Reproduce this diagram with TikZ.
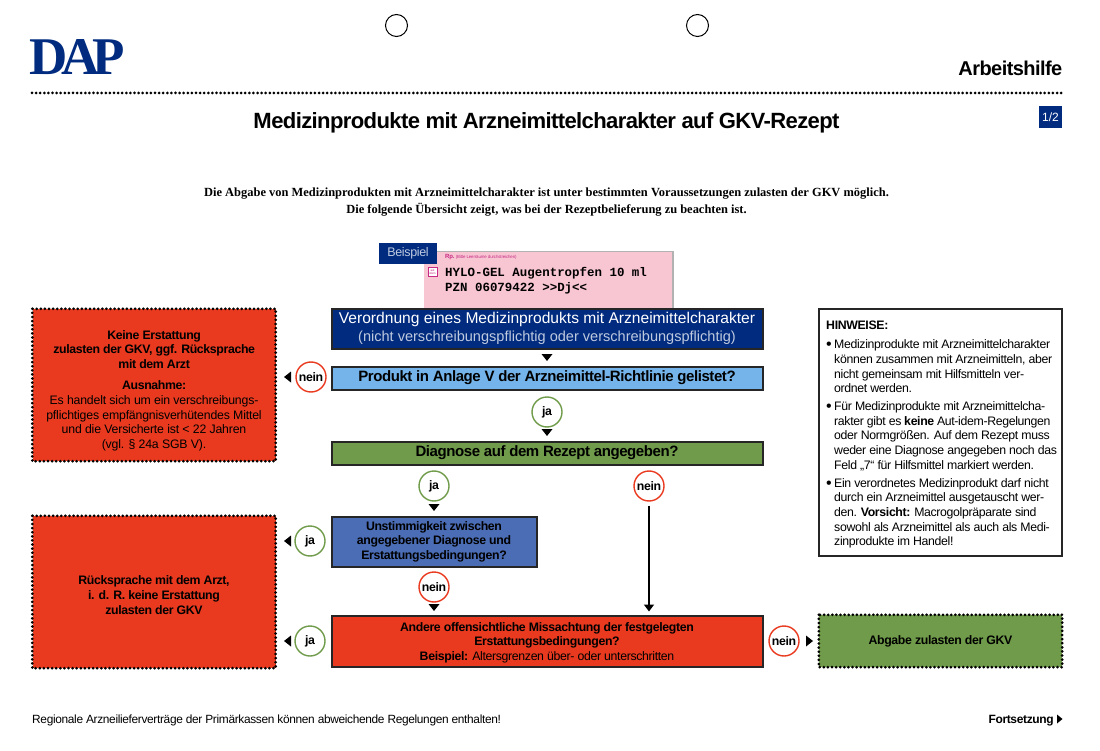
\documentclass[tikz,border=0pt]{standalone}
\usepackage{fontspec}
\setmainfont{Liberation Sans}[LetterSpace=-2.8]
\newfontfamily\widefont{Liberation Sans}
\newfontfamily\notefont{Liberation Sans}[LetterSpace=-1.5]
\newfontfamily\serifbf{Liberation Serif}
\newfontfamily\rezeptfont{Liberation Mono}
\usetikzlibrary{arrows.meta}
\definecolor{dapnavy}{HTML}{002B7F}
\definecolor{daplight}{HTML}{74B4EA}
\definecolor{dapgreen}{HTML}{6F9B4A}
\definecolor{dapblue}{HTML}{4B6DB5}
\definecolor{dapred}{HTML}{E93A20}
\definecolor{dappink}{HTML}{F8C6D3}
\newcommand{\fs}[2]{\fontsize{#1}{#2}\selectfont}
\newcommand{\notebullet}{\makebox[8pt][l]{\raisebox{-1pt}[0pt][0pt]{\fs{16}{14.6}\textbullet}}}

\begin{document}
\begin{tikzpicture}[x=1pt,y=-1pt]
  \tikzset{
    dotline/.style={line width=3pt,line cap=round,dash pattern=on 0pt off 4.1pt},
    flowbox/.style={draw=black!85,line width=2pt,inner sep=0pt,align=center,font=\fs{12.3}{14.6}\bfseries},
    dotbox/.style={fill=#1,inner sep=0pt,minimum width=243pt,align=center,font=\fs{12.3}{14.6}},
    answer/.style={circle,draw=#1,fill=white,line width=1.4pt,minimum size=30pt,inner sep=0pt,font=\fs{12.3}{14}\bfseries},
    tipdown/.pic={\fill[black] (-5.5,-3.5) -- (5.5,-3.5) -- (0,3.5) -- cycle;},
    tipleft/.pic={\fill[black] (3.5,-5.5) -- (3.5,5.5) -- (-3.5,0) -- cycle;},
    tipright/.pic={\fill[black] (-3.5,-5.5) -- (-3.5,5.5) -- (3.5,0) -- cycle;}
  }
  \useasboundingbox (0,0) rectangle (1100,751);

  % head of the page
  \node[circle,draw,line width=1pt,minimum size=22pt,inner sep=0pt] (punchl) at (396.5,25.5) {};
  \node[circle,draw,line width=1pt,minimum size=22pt,inner sep=0pt] (punchr) at (697.5,25.5) {};
  \node[text=dapnavy,font=\serifbf\fs{53}{53}\bfseries,inner sep=0pt] (logo) at (77,57) {D\kern-6pt A\kern-8pt P};
  \node[anchor=east,font=\fs{20}{22}\bfseries,inner sep=0pt] (kind) at (1062.5,68.5) {Arbeitshilfe};
  \draw[dotline] (32,93) -- (1063,93);
  \node[font=\fs{22.05}{26}\bfseries,inner sep=0pt] (title) at (546.5,123) {Medizinprodukte mit Arzneimittelcharakter auf GKV-Rezept};
  \node[fill=dapnavy,text=white,minimum width=23pt,minimum height=22pt,inner sep=0pt,font=\widefont\fs{12}{14}] (page) at (1050.5,117) {1/2};
  \node[align=center,inner sep=0pt,font=\serifbf\fs{12.45}{17}\bfseries] (intro) at (546.5,202) {Die Abgabe von Medizinprodukten mit Arzneimittelcharakter ist unter bestimmten Voraussetzungen zulasten der GKV möglich.\\Die folgende Übersicht zeigt, was bei der Rezeptbelieferung zu beachten ist.};

  % prescription
  \fill[black!30] (426,251) rectangle (674,308);
  \node[fill=dappink,minimum width=248pt,minimum height=56pt,inner sep=0pt] (rezept) at (548,280) {};
  \node[anchor=west,text=magenta!80!black,inner sep=0pt,font=\fs{4.4}{5}] (rp) at (445,257.5) {\textbf{\fs{6}{6}Rp.} (Bitte Leerräume durchstreichen)};
  \node[draw=magenta!80!black,fill=white,text=magenta!80!black,minimum size=9pt,inner sep=0pt,font=\fs{3}{3.5},align=center] (idem) at (432.5,272) {aut\\idem};
  \node[anchor=north west,align=left,inner sep=0pt,font=\rezeptfont\fs{12.45}{15}\bfseries] (mittel) at (445,267.5) {HYLO-GEL Augentropfen 10 ml\\PZN 06079422 >>Dj<<};
  \node[fill=dapnavy,text=white!75!dapnavy,minimum width=58pt,minimum height=21pt,inner sep=0pt,font=\fs{12.5}{14}] (beispiel) at (408,253.5) {Beispiel};

  % flow
  \node[flowbox,fill=dapnavy,text=white,minimum width=431pt,minimum height=40pt,font=\widefont\fs{15.6}{18.5}] (start) at (547,328.5) {Verordnung eines Medizinprodukts mit Arzneimittelcharakter\\\textcolor{white!75!dapnavy}{\fs{14.55}{17}(nicht verschreibungspflichtig oder verschreibungspflichtig)}};
  \node[flowbox,fill=daplight,minimum width=431pt,minimum height=23pt,font=\fs{15}{18}\bfseries] (anlage) at (547,378) {Produkt in Anlage V der Arzneimittel-Richtlinie gelistet?};
  \node[flowbox,fill=dapgreen,minimum width=431pt,minimum height=23pt,font=\fs{15}{18}\bfseries] (diagnose) at (547,453) {Diagnose auf dem Rezept angegeben?};
  \node[flowbox,fill=dapblue,minimum width=205pt,minimum height=50pt] (unstimmig) at (434,541.5) {Unstimmigkeit zwischen\\angegebener Diagnose und\\Erstattungsbedingungen?};
  \node[flowbox,fill=dapred,minimum width=431pt,minimum height=51pt] (missachtung) at (547,641) {\rule{0pt}{12pt}Andere offensichtliche Missachtung der festgelegten\\Erstattungsbedingungen?\\Beispiel: {\mdseries Altersgrenzen über- oder unterschritten}};

  % answers
  \node[answer=dapred] (neinanlage) at (311,377) {nein};
  \node[answer=dapgreen] (jaanlage) at (547,412) {ja};
  \node[answer=dapgreen] (jadiagnose) at (434,486) {ja};
  \node[answer=dapred] (neindiagnose) at (649,486) {nein};
  \node[answer=dapgreen] (jaunstimmig) at (310,541) {ja};
  \node[answer=dapred] (neinunstimmig) at (434,587) {nein};
  \node[answer=dapgreen] (jamissachtung) at (310,641) {ja};
  \node[answer=dapred] (neinmissachtung) at (784,641) {nein};

  % arrow heads
  \pic at (547,357.5) {tipdown};
  \pic at (547,432.5) {tipdown};
  \pic at (434,507.5) {tipdown};
  \pic at (434,607.5) {tipdown};
  \pic at (287.5,377) {tipleft};
  \pic at (287.5,541) {tipleft};
  \pic at (287.5,641) {tipleft};
  \pic at (809.5,641) {tipright};
  \draw[line width=1.5pt,-{Triangle[length=7pt,width=10pt]},shorten >=3pt,shorten <=4pt] (neindiagnose) -- (neindiagnose |- missachtung.north);

  % results
  \node[dotbox=dapred,minimum height=152pt] (keine) at (154,385) {\rule{0pt}{20pt}\textbf{Keine Erstattung}\\\textbf{zulasten der GKV, ggf. Rücksprache}\\\textbf{mit dem Arzt}\\[7pt]\textbf{Ausnahme:}\\\notefont Es handelt sich um ein verschreibungs-\\\notefont pflichtiges empfängnisverhütendes Mittel\\\notefont und die Versicherte ist < 22 Jahren\\\notefont (vgl. § 24a SGB V).};
  \node[dotbox=dapred,minimum height=152pt,font=\fs{12.3}{14.6}\bfseries] (ruecksprache) at (154,592) {\rule{0pt}{15pt}Rücksprache mit dem Arzt,\\i. d. R. keine Erstattung\\zulasten der GKV};
  \node[dotbox=dapgreen,minimum height=52pt,font=\fs{12.3}{14.6}\bfseries] (abgabe) at (940.5,641) {Abgabe zulasten der GKV};
  \draw[dotline] (keine.north west) rectangle (keine.south east);
  \draw[dotline] (ruecksprache.north west) rectangle (ruecksprache.south east);
  \draw[dotline] (abgabe.north west) rectangle (abgabe.south east);

  % notes
  \node[draw=black!85,line width=2pt,minimum width=243pt,minimum height=247pt,inner sep=0pt] (hinweise) at (940.5,432.5) {};
  \node[anchor=north west,align=left,inner sep=0pt,font=\fs{12.3}{14.6}] (hinweistext) at (826,320.5) {\textbf{HINWEISE:}\\[5pt]
    \notebullet Medizinprodukte mit Arzneimittelcharakter\\
    \hspace*{8pt}können zusammen mit Arzneimitteln, aber\\
    \hspace*{8pt}nicht gemeinsam mit Hilfsmitteln ver-\\
    \hspace*{8pt}ordnet werden.\\[3.5pt]
    \notebullet Für Medizinprodukte mit Arzneimittelcha-\\
    \hspace*{8pt}rakter gibt es \textbf{keine} Aut-idem-Regelungen\\
    \hspace*{8pt}oder Normgrößen. Auf dem Rezept muss\\
    \hspace*{8pt}weder eine Diagnose angegeben noch das\\
    \hspace*{8pt}Feld „7“ für Hilfsmittel markiert werden.\\[3.5pt]
    \notebullet Ein verordnetes Medizinprodukt darf nicht\\
    \hspace*{8pt}durch ein Arzneimittel ausgetauscht wer-\\
    \hspace*{8pt}den. \textbf{Vorsicht:} Macrogolpräparate sind\\
    \hspace*{8pt}sowohl als Arzneimittel als auch als Medi-\\
    \hspace*{8pt}zinprodukte im Handel!};

  % foot of the page
  \node[anchor=west,inner sep=0pt,font=\fs{11.9}{14}] (regional) at (32,720) {Regionale Arzneilieferverträge der Primärkassen können abweichende Regelungen enthalten!};
  \node[anchor=east,inner sep=0pt,font=\fs{12}{14}\bfseries] (weiter) at (1054,720.5) {Fortsetzung};
  \fill[black] (1057,714.5) -- (1057,723.5) -- (1062.5,719) -- cycle;
\end{tikzpicture}
\end{document}
